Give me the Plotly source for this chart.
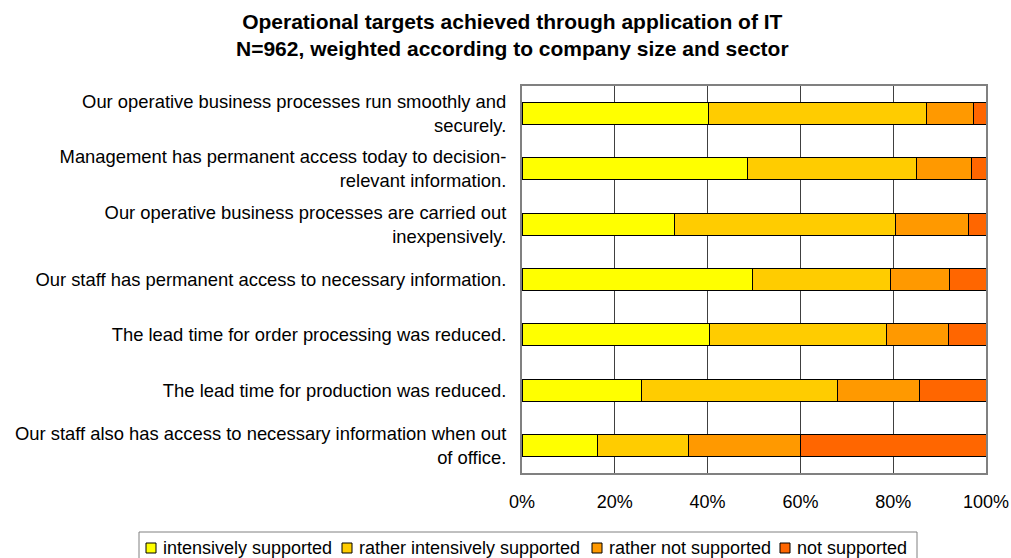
import plotly.graph_objects as go

categories = [
    "Our operative business processes run smoothly and<br>securely.",
    "Management has permanent access today to decision-<br>relevant information.",
    "Our operative business processes are carried out<br>inexpensively.",
    "Our staff has permanent access to necessary information.",
    "The lead time for order processing was reduced.",
    "The lead time for production was reduced.",
    "Our staff also has access to necessary information when out<br>of office.",
]
series_names = ["intensively supported", "rather intensively supported",
                "rather not supported", "not supported"]
intensively = [40.2, 48.7, 32.8, 49.6, 40.5, 25.8, 16.2]
rather_intensively = [46.9, 36.3, 47.8, 29.9, 38.0, 42.3, 19.7]
rather_not = [10.2, 11.8, 15.7, 12.7, 13.5, 17.5, 24.2]
not_supported = [2.7, 3.2, 3.7, 7.8, 8.0, 14.4, 39.9]
colors = ["#FFFF00", "#FFCC00", "#FF9900", "#FF6600"]
tick_vals = [0, 20, 40, 60, 80, 100]
tick_text = ["0%", "20%", "40%", "60%", "80%", "100%"]

# layout geometry (pixels)
W, H = 1011, 558
PL, PR, PT, PB = 522, 986, 86, 473
FONT = "Liberation Sans, Arial, Helvetica, sans-serif"


def px_x(p):
    return (p - PL) / (PR - PL)


def px_y(p):
    return (PB - p) / (PB - PT)


fig = go.Figure()
for name, vals, col in zip(series_names,
                           [intensively, rather_intensively, rather_not, not_supported],
                           colors):
    fig.add_trace(go.Bar(
        y=categories, x=vals, name=name, orientation="h",
        marker=dict(color=col, line=dict(color="black", width=1)),
        showlegend=False,
    ))

shapes = []
annotations = []

# title
annotations.append(dict(
    text="<b>Operational targets achieved through application of IT<br>N=962, weighted according to company size and sector</b>",
    xref="paper", yref="paper", x=px_x(512), y=px_y(8),
    xanchor="center", yanchor="top", showarrow=False,
    font=dict(size=21, family=FONT, color="black"),
))

# legend box
shapes.append(dict(type="rect", xref="paper", yref="paper",
                   x0=px_x(139), x1=px_x(917), y0=px_y(532), y1=px_y(560),
                   line=dict(color="#808080", width=1), fillcolor="white", layer="below"))
legend_sq_x = [146, 342, 592, 780]
for name, col, sx in zip(series_names, colors, legend_sq_x):
    shapes.append(dict(type="rect", xref="paper", yref="paper",
                       x0=px_x(sx), x1=px_x(sx + 10), y0=px_y(543), y1=px_y(553),
                       line=dict(color="black", width=1), fillcolor=col))
    annotations.append(dict(
        text=name, xref="paper", yref="paper", x=px_x(sx + 15), y=px_y(548),
        xanchor="left", yanchor="middle", showarrow=False,
        font=dict(size=18, family=FONT, color="black"),
    ))

fig.update_layout(
    barmode="stack",
    bargap=0.6,
    width=W, height=H,
    margin=dict(l=PL, r=W - PR, t=PT, b=H - PB, pad=0),
    paper_bgcolor="white", plot_bgcolor="white",
    font=dict(family=FONT, size=18, color="black"),
    showlegend=False,
    xaxis=dict(
        range=[0, 100], tickvals=tick_vals, ticktext=tick_text,
        showgrid=True, gridcolor="#404040", gridwidth=1,
        showline=True, linecolor="#808080", linewidth=2, mirror=True,
        ticks="", zeroline=False, tickfont=dict(size=18),
        ticklabelstandoff=11, automargin=False,
    ),
    yaxis=dict(
        autorange="reversed", showgrid=False,
        showline=True, linecolor="#808080", linewidth=2, mirror=True,
        ticks="", ticklabelstandoff=10, tickfont=dict(size=18.4),
        automargin=False,
    ),
    shapes=shapes,
    annotations=annotations,
)

fig.write_html(
    "out.html",
    config={"displayModeBar": False},
    post_script="document.body.style.margin='0';document.body.style.overflow='hidden';",
)
